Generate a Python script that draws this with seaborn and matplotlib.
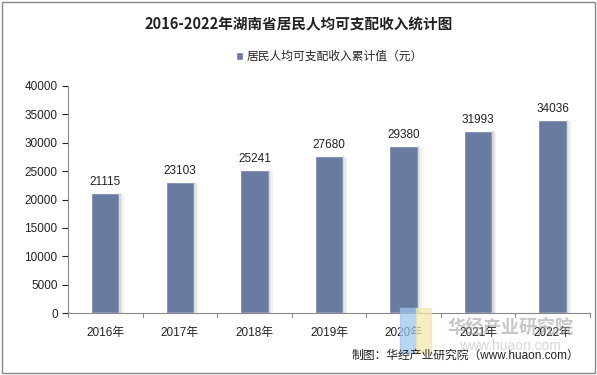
import pandas as pd
import seaborn as sns
from matplotlib import pyplot as plt
from matplotlib.patches import Rectangle

years = ["2016年", "2017年", "2018年", "2019年", "2020年", "2021年", "2022年"]
income = [21115, 23103, 25241, 27680, 29380, 31993, 34036]
series_name = "居民人均可支配收入累计值（元）"

df = pd.DataFrame({"year": years, "income": income})

sns.set_theme(style="white")
plt.rcParams["font.family"] = ["Liberation Sans", "Noto Sans CJK SC", "DejaVu Sans"]

bar_color = "#6a7ba2"

fig = plt.figure(figsize=(5.97, 3.75), dpi=100)
ax = fig.add_axes([0.114, 0.165, 0.874, 0.606])

sns.barplot(data=df, x="year", y="income", color=bar_color, width=0.38,
            saturation=1, ax=ax, label=series_name)

# soft shadow to the right of each bar
for p in list(ax.patches):
    for k, a in enumerate([0.55, 0.35, 0.18]):
        ax.add_patch(Rectangle((p.get_x() + p.get_width() + k * 0.018, 0), 0.018,
                               p.get_height() - 150 * k, color="#b8b8b8", alpha=a,
                               zorder=1, lw=0))

for i, v in enumerate(income):
    ax.text(i, v + 900, str(v), ha="center", va="bottom", fontsize=8.5, color="#222222")

ax.set_ylim(0, 40000)
ax.set_yticks(range(0, 40001, 5000))
ax.set_xlim(-0.5, 6.5)
ax.set_xlabel("")
ax.set_ylabel("")
ax.tick_params(axis="y", labelsize=8.5, colors="#222222", left=True, length=4, width=0.8)
ax.tick_params(axis="x", labelsize=8.5, colors="#222222", bottom=False, pad=4)
for s in ["top", "right"]:
    ax.spines[s].set_visible(False)
for s in ["left", "bottom"]:
    ax.spines[s].set_color("#888888")
    ax.spines[s].set_linewidth(0.8)
# category separators on the x axis
for b in [x + 0.5 for x in range(-1, 7)]:
    ax.plot([b, b], [0, -0.018], transform=ax.get_xaxis_transform(), clip_on=False,
            color="#888888", lw=0.8)

ax.legend(loc="upper center", bbox_to_anchor=(0.5, 1.2), frameon=False, fontsize=8.5,
          handlelength=0.6, handleheight=0.6, handletextpad=0.3)

fig.text(0.5, 0.935, "2016-2022年湖南省居民人均可支配收入统计图", ha="center", va="center",
         fontsize=10.5, fontweight="bold", color="#222222", family=["Noto Sans CJK SC"])

# watermark
fig.text(0.855, 0.125, "华经产业研究院", ha="center", va="center", fontsize=13,
         fontweight="bold", color="#9a9a9a", alpha=0.55, family=["Noto Sans CJK SC"])
fig.text(0.855, 0.078, "www.huaon.com", ha="center", va="center", fontsize=10,
         color="#b0b0b0", alpha=0.5)
fig.patches.append(Rectangle((0.67, 0.06), 0.026, 0.12, transform=fig.transFigure,
                             color="#9cc4f0", alpha=0.7, zorder=0))
fig.patches.append(Rectangle((0.696, 0.06), 0.026, 0.12, transform=fig.transFigure,
                             color="#f3e7a8", alpha=0.7, zorder=0))

fig.text(0.97, 0.05, "制图：华经产业研究院（www.huaon.com）", ha="right", va="center",
         fontsize=8.5, color="#222222")

fig.patches.append(Rectangle((0.003, 0.005), 0.994, 0.99, transform=fig.transFigure,
                             fill=False, edgecolor="#888888", lw=1))

fig.savefig("out.png", dpi=100)
